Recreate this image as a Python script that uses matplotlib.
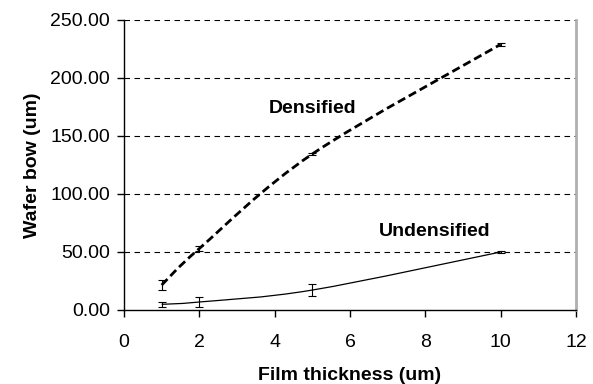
import matplotlib
matplotlib.use("Agg")
import matplotlib.pyplot as plt
import numpy as np
from matplotlib.path import Path
from matplotlib.patches import PathPatch

plt.rcParams['font.family'] = ['Liberation Sans', 'DejaVu Sans']

thickness = [1, 2, 5, 10]
densified = [21.5, 53.0, 134.5, 229.0]
densified_err = [4.5, 2.0, 1.0, 1.5]
undensified = [4.9, 6.9, 17.2, 50.0]
undensified_err = [2.0, 4.5, 5.5, 1.0]

def smooth_path(xs, ys, t=1/6.0):
    xs = np.asarray(xs, float); ys = np.asarray(ys, float)
    verts = [(xs[0], ys[0])]
    codes = [Path.MOVETO]
    n = len(xs)
    for i in range(n - 1):
        p0 = np.array([xs[max(i-1, 0)], ys[max(i-1, 0)]])
        p1 = np.array([xs[i], ys[i]])
        p2 = np.array([xs[i+1], ys[i+1]])
        p3 = np.array([xs[min(i+2, n-1)], ys[min(i+2, n-1)]])
        c1 = p1 + (p2 - p0) * t
        c2 = p2 - (p3 - p1) * t
        verts += [tuple(c1), tuple(c2), tuple(p2)]
        codes += [Path.CURVE4] * 3
    return Path(verts, codes)

fig = plt.figure(figsize=(5.93, 3.84), dpi=100)
ax = fig.add_axes([124/593, 1 - 310/384, (576-124)/593, (310-20)/384])

ax.add_patch(PathPatch(smooth_path(thickness, densified), fill=False,
                       edgecolor='black', lw=2.0, linestyle=(0, (3, 1.5)), zorder=3))
ax.add_patch(PathPatch(smooth_path(thickness, undensified), fill=False,
                       edgecolor='black', lw=0.9, zorder=3))
ax.errorbar(thickness, densified, yerr=densified_err, fmt='none', ecolor='black',
            elinewidth=0.8, capsize=3, capthick=0.8, zorder=4)
ax.errorbar(thickness, undensified, yerr=undensified_err, fmt='none', ecolor='black',
            elinewidth=0.8, capsize=3, capthick=0.8, zorder=4)

ax.set_xlim(0, 12)
ax.set_ylim(0, 250)
ax.set_xticks(range(0, 13, 2))
ax.set_yticks(range(0, 251, 50))
ax.set_yticklabels([f"{v:.2f}" for v in range(0, 251, 50)])
for y in range(50, 251, 50):
    ax.axhline(y, color='black', lw=0.8, linestyle=(0, (5, 4)), zorder=1)

ax.spines['top'].set_visible(False)
ax.spines['right'].set_color('#b0b0b0')
ax.spines['right'].set_linewidth(2.0)
ax.spines['left'].set_linewidth(1.0)
ax.spines['bottom'].set_linewidth(1.0)
ax.tick_params(direction='out', length=5, width=1.0, labelsize=14)
ax.tick_params(axis='y', pad=5)
ax.tick_params(axis='x', pad=12)

ax.set_xlabel('Film thickness (um)', fontsize=14, fontweight='bold', labelpad=12)
ax.set_ylabel('Wafer bow (um)', fontsize=14, fontweight='bold', labelpad=7)

ax.text(5.0, 174, 'Densified', fontsize=14, fontweight='bold', ha='center', va='center')
ax.text(8.26, 68, 'Undensified', fontsize=14, fontweight='bold', ha='center', va='center')

fig.savefig('out.png', dpi=100)
